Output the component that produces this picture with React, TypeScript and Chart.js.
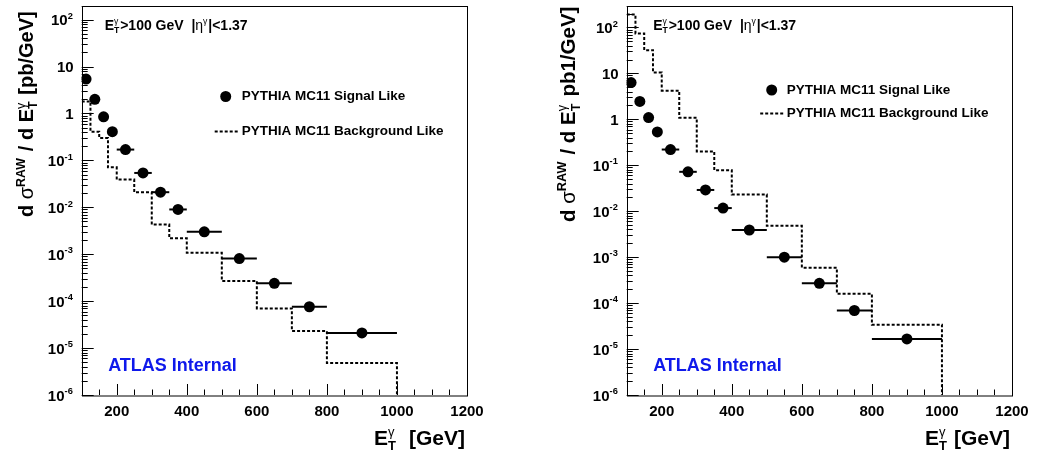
import React, { useEffect, useRef } from 'react';
import { Chart, registerables } from 'chart.js';

Chart.register(...registerables);

// ---------- data ----------
const BIN_EDGES = [100, 125, 150, 175, 200, 250, 300, 350, 400, 500, 600, 700, 800, 1000];

const LEFT_SIGNAL = [5.4, 2.0, 0.85, 0.41, 0.17, 0.054, 0.021, 0.009, 0.003, 0.00081, 0.00024, 7.6e-5, 2.1e-5];
const LEFT_BACKGROUND = [1.8, 0.41, 0.3, 0.071, 0.039, 0.021, 0.0043, 0.0022, 0.00108, 0.00027, 7.0e-5, 2.3e-5, 4.8e-6];

const RIGHT_SIGNAL = [6.3, 2.45, 1.09, 0.53, 0.22, 0.072, 0.029, 0.0117, 0.0039, 0.001, 0.00027, 6.9e-5, 1.66e-5];
const RIGHT_BACKGROUND = [190, 74, 32, 10.4, 4.2, 1.08, 0.2, 0.078, 0.023, 0.0048, 0.00059, 0.00016, 3.4e-5];

const X_TICK_LABELS = [200, 400, 600, 800, 1000, 1200];
const X_MINOR_STEP = 50;
const Y_DECADES = [-6, -5, -4, -3, -2, -1, 0, 1, 2];
const X_MIN = 100;
const X_MAX = 1200;
const Y_MIN = 1e-6;

const SIGNAL_LABEL = 'PYTHIA MC11 Signal Like';
const BACKGROUND_LABEL = 'PYTHIA MC11 Background Like';
const ATLAS_LABEL = 'ATLAS Internal';

// ---------- text helpers ----------
const FONT = '"Liberation Sans", Arial, Helvetica, sans-serif';
const fnt = (size: number, bold = true) => `${bold ? 'bold ' : ''}${size}px ${FONT}`;

type Seg = { t?: string; sup?: string; sub?: string; light?: boolean; lightSup?: boolean };

function segW(ctx: CanvasRenderingContext2D, s: Seg, size: number) {
  if (s.t !== undefined) {
    ctx.font = fnt(size, !s.light);
    return ctx.measureText(s.t).width;
  }
  const ss = size * 0.62;
  let a = 0;
  let b = 0;
  if (s.sup) {
    ctx.font = fnt(ss, !s.lightSup);
    a = ctx.measureText(s.sup).width;
  }
  if (s.sub) {
    ctx.font = fnt(ss, true);
    b = ctx.measureText(s.sub).width;
  }
  return Math.max(a, b) + size * 0.06;
}

function drawRich(ctx: CanvasRenderingContext2D, segs: Seg[], x: number, y: number, size: number, align: 'left' | 'right' | 'center' = 'left') {
  const total = segs.reduce((w, s) => w + segW(ctx, s, size), 0);
  let cx = align === 'right' ? x - total : align === 'center' ? x - total / 2 : x;
  ctx.textAlign = 'left';
  ctx.textBaseline = 'alphabetic';
  for (const s of segs) {
    const w = segW(ctx, s, size);
    if (s.t !== undefined) {
      ctx.font = fnt(size, !s.light);
      ctx.fillText(s.t, cx, y);
    } else {
      const ss = size * 0.62;
      if (s.sup) {
        ctx.font = fnt(ss, !s.lightSup);
        ctx.fillText(s.sup, cx, y - size * 0.42);
      }
      if (s.sub) {
        ctx.font = fnt(ss, true);
        ctx.fillText(s.sub, cx, y + size * 0.22);
      }
    }
    cx += w;
  }
  return total;
}

// ---------- panel config ----------
type PanelCfg = {
  left: number;
  width: number;
  yAxisWidth: number;
  padRight: number;
  yMax: number;
  signal: number[];
  background: number[];
  yTitle: Seg[];
  yTitleSize: number;
  yTitleX: number;
  yTitleStartY: number;
  xTitle: Seg[];
  topTextDx: number;
  legendMarkerDx: number;
  legendTextDx: number;
  legendLineDx0: number;
  legendLineDx1: number;
  legendY1: number;
  legendY2: number;
  atlasDx: number;
};

const TOP_TEXT: Seg[] = [
  { t: 'E' },
  { sup: 'γ', sub: 'T', lightSup: true },
  { t: '>100 GeV  |' },
  { t: 'η', light: true },
  { sup: 'γ', lightSup: true },
  { t: '|<1.37' },
];

const LEFT_CFG: PanelCfg = {
  left: 0,
  width: 518,
  yAxisWidth: 81.7,
  padRight: 51,
  yMax: 200,
  signal: LEFT_SIGNAL,
  background: LEFT_BACKGROUND,
  yTitle: [
    { t: 'd ' },
    { t: 'σ', light: true },
    { sup: 'RAW' },
    { t: ' / d E' },
    { sup: 'γ', sub: 'T', lightSup: true },
    { t: ' [pb/GeV]' },
  ],
  yTitleSize: 20,
  yTitleX: 33,
  yTitleStartY: 217,
  xTitle: [{ t: 'E' }, { sup: 'γ', sub: 'T', lightSup: true }, { t: '  [GeV]' }],
  topTextDx: 23,
  legendMarkerDx: 144,
  legendTextDx: 160,
  legendLineDx0: 133,
  legendLineDx1: 156,
  legendY1: 96.5,
  legendY2: 131.5,
  atlasDx: 26.5,
};

const RIGHT_CFG: PanelCfg = {
  left: 518,
  width: 519,
  yAxisWidth: 108.7,
  padRight: 25,
  yMax: 300,
  signal: RIGHT_SIGNAL,
  background: RIGHT_BACKGROUND,
  yTitle: [
    { t: 'd ' },
    { t: 'σ', light: true },
    { sup: 'RAW' },
    { t: ' / d E' },
    { sup: 'γ', sub: 'T', lightSup: true },
    { t: ' pb1/GeV]' },
  ],
  yTitleSize: 20.5,
  yTitleX: 57,
  yTitleStartY: 222,
  xTitle: [{ t: 'E' }, { sup: 'γ', sub: 'T', lightSup: true }, { t: ' [GeV]' }],
  topTextDx: 26.5,
  legendMarkerDx: 145,
  legendTextDx: 160,
  legendLineDx0: 133.5,
  legendLineDx1: 158.5,
  legendY1: 90,
  legendY2: 113.5,
  atlasDx: 26.5,
};

function Panel({ cfg }: { cfg: PanelCfg }) {
  const ref = useRef<HTMLCanvasElement>(null);

  useEffect(() => {
    const canvas = ref.current;
    if (!canvas) return;

    const signalPoints = cfg.signal.map((v, i) => ({ x: (BIN_EDGES[i] + BIN_EDGES[i + 1]) / 2, y: v }));
    const bkgPoints = cfg.background.map((v, i) => ({ x: BIN_EDGES[i], y: v }));
    bkgPoints.push({ x: BIN_EDGES[BIN_EDGES.length - 1], y: Y_MIN });

    const errorBars = {
      id: 'errorBars',
      beforeDatasetsDraw(chart: any) {
        const { ctx, scales } = chart;
        const xs = scales.x;
        const ys = scales.y;
        ctx.save();
        ctx.strokeStyle = '#000';
        ctx.lineWidth = 2;
        cfg.signal.forEach((v, i) => {
          const py = ys.getPixelForValue(v);
          ctx.beginPath();
          ctx.moveTo(xs.getPixelForValue(BIN_EDGES[i]), py);
          ctx.lineTo(xs.getPixelForValue(BIN_EDGES[i + 1]), py);
          ctx.stroke();
        });
        ctx.restore();
      },
    };

    const decorations = {
      id: 'decorations',
      afterDraw(chart: any) {
        const { ctx, chartArea, scales } = chart;
        const xs = scales.x;
        const ys = scales.y;
        const { left, right, top, bottom } = chartArea;
        ctx.save();
        ctx.fillStyle = '#000';
        ctx.strokeStyle = '#000';

        // frame
        ctx.lineWidth = 1;
        ctx.strokeRect(Math.round(left) + 0.5, Math.round(top) + 0.5, Math.round(right - left), Math.round(bottom - top) - 0.5);

        // y ticks (inward)
        ctx.beginPath();
        for (const k of Y_DECADES) {
          for (let m = 1; m <= 9; m++) {
            const v = m * Math.pow(10, k);
            if (v < Y_MIN || v > cfg.yMax) continue;
            const py = Math.round(ys.getPixelForValue(v)) + 0.5;
            const len = m === 1 ? 12 : 6;
            ctx.moveTo(left, py);
            ctx.lineTo(left + len, py);
          }
        }
        // x ticks (inward)
        for (let v = X_MIN + X_MINOR_STEP; v < X_MAX + 1; v += X_MINOR_STEP) {
          const px = Math.round(xs.getPixelForValue(v)) + 0.5;
          const len = X_TICK_LABELS.includes(v) ? 11 : 5.5;
          ctx.moveTo(px, bottom);
          ctx.lineTo(px, bottom - len);
        }
        ctx.stroke();

        // y tick labels
        for (const k of Y_DECADES) {
          const v = Math.pow(10, k);
          const py = ys.getPixelForValue(v);
          const segs: Seg[] = k === 0 ? [{ t: '1' }] : k === 1 ? [{ t: '10' }] : [{ t: '10' }, { sup: String(k) }];
          drawRich(ctx, segs, left - 8, py + 5.5, 15, 'right');
        }

        // x tick labels
        ctx.font = fnt(15);
        ctx.textAlign = 'center';
        ctx.textBaseline = 'alphabetic';
        for (const v of X_TICK_LABELS) {
          ctx.fillText(String(v), xs.getPixelForValue(v), 416);
        }

        // axis titles
        drawRich(ctx, cfg.xTitle, right - 2, 445, 21, 'right');
        ctx.save();
        ctx.translate(cfg.yTitleX, cfg.yTitleStartY);
        ctx.rotate(-Math.PI / 2);
        drawRich(ctx, cfg.yTitle, 0, 0, cfg.yTitleSize, 'left');
        ctx.restore();

        // top text
        drawRich(ctx, TOP_TEXT, left + cfg.topTextDx, 30, 14, 'left');

        // legend
        ctx.beginPath();
        ctx.arc(left + cfg.legendMarkerDx, cfg.legendY1, 5.5, 0, Math.PI * 2);
        ctx.fill();
        ctx.font = fnt(13.5);
        ctx.textAlign = 'left';
        ctx.textBaseline = 'middle';
        ctx.fillText(SIGNAL_LABEL, left + cfg.legendTextDx, cfg.legendY1);
        ctx.fillText(BACKGROUND_LABEL, left + cfg.legendTextDx, cfg.legendY2);
        ctx.save();
        ctx.lineWidth = 2;
        ctx.setLineDash([3, 2]);
        ctx.beginPath();
        ctx.moveTo(left + cfg.legendLineDx0, cfg.legendY2);
        ctx.lineTo(left + cfg.legendLineDx1, cfg.legendY2);
        ctx.stroke();
        ctx.restore();

        // ATLAS label
        ctx.fillStyle = 'rgb(15, 25, 235)';
        ctx.font = fnt(18);
        ctx.textAlign = 'left';
        ctx.textBaseline = 'alphabetic';
        ctx.fillText(ATLAS_LABEL, left + cfg.atlasDx, 370.5);

        ctx.restore();
      },
    };

    const chart = new Chart(canvas, {
      type: 'scatter',
      data: {
        datasets: [
          {
            type: 'scatter',
            label: SIGNAL_LABEL,
            data: signalPoints,
            backgroundColor: '#000',
            borderColor: '#000',
            pointRadius: 5.5,
            pointHoverRadius: 5.5,
            borderWidth: 0,
            order: 0,
          } as any,
          {
            type: 'line',
            label: BACKGROUND_LABEL,
            data: bkgPoints,
            stepped: true,
            borderColor: '#000',
            borderWidth: 2,
            borderDash: [3, 2],
            pointRadius: 0,
            fill: false,
            tension: 0,
            order: 1,
          } as any,
        ],
      },
      options: {
        animation: false,
        responsive: false,
        devicePixelRatio: 1,
        events: [],
        layout: { padding: { left: 0, right: cfg.padRight, top: 4, bottom: 0 } },
        plugins: { legend: { display: false }, tooltip: { enabled: false } },
        scales: {
          x: {
            type: 'linear',
            min: X_MIN,
            max: X_MAX,
            ticks: { display: false },
            grid: { display: false },
            border: { display: false },
            afterFit: (s: any) => {
              s.height = 58;
            },
          },
          y: {
            type: 'logarithmic',
            min: Y_MIN,
            max: cfg.yMax,
            ticks: { display: false },
            grid: { display: false },
            border: { display: false },
            afterFit: (s: any) => {
              s.width = cfg.yAxisWidth;
            },
          },
        },
      } as any,
      plugins: [errorBars, decorations],
    });

    return () => chart.destroy();
  }, [cfg]);

  return (
    <canvas
      ref={ref}
      width={cfg.width}
      height={453}
      style={{ position: 'absolute', left: cfg.left, top: 0, width: cfg.width, height: 453 }}
    />
  );
}

export default function App() {
  return (
    <div style={{ position: 'absolute', left: 0, top: 0, width: 1037, height: 453, background: '#fff', overflow: 'hidden' }}>
      <Panel cfg={LEFT_CFG} />
      <Panel cfg={RIGHT_CFG} />
    </div>
  );
}
